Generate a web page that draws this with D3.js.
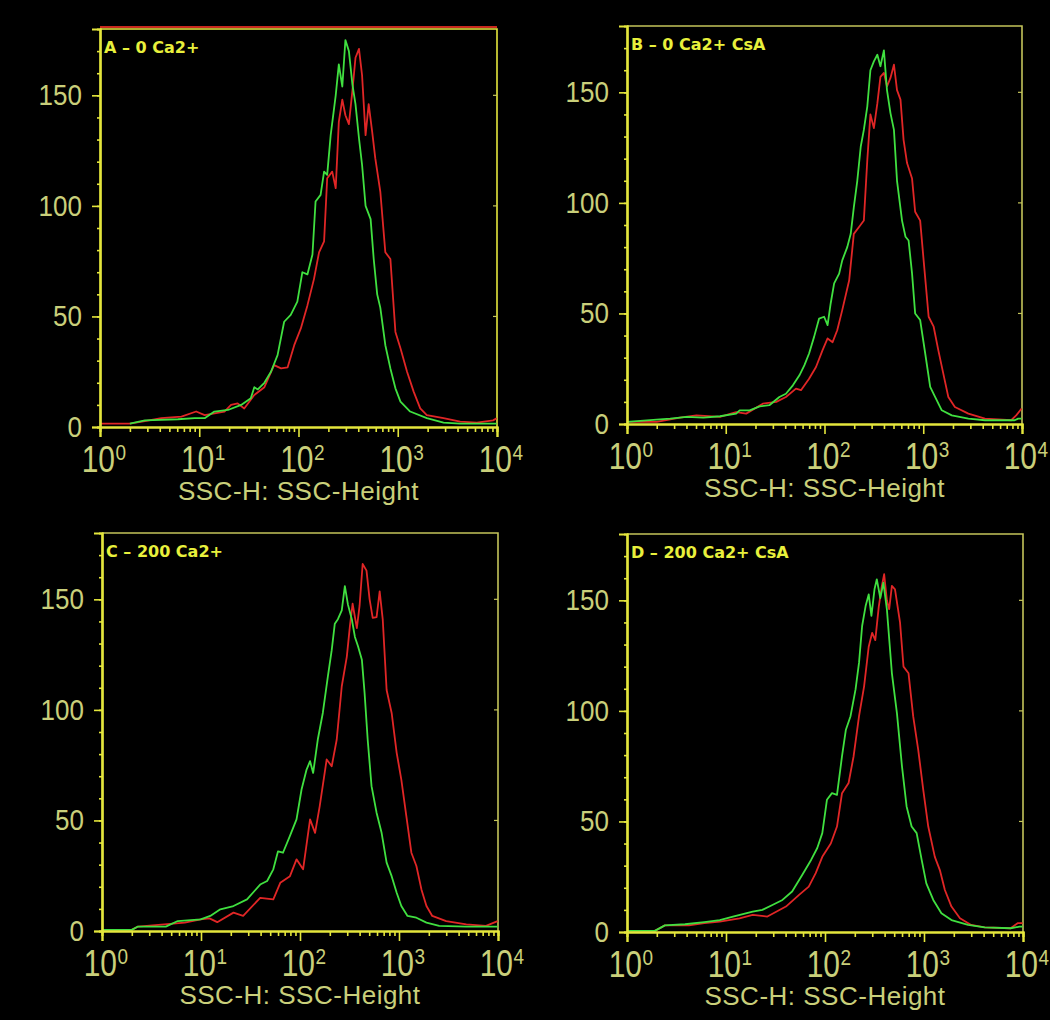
<!DOCTYPE html>
<html>
<head>
<meta charset="utf-8">
<script src="https://cdn.jsdelivr.net/npm/d3@7"></script>
<style>
  html, body { margin: 0; padding: 0; background: #000; }
  svg { display: block; }
</style>
</head>
<body>
<div id="chart"></div>
<script>
// histograms: [channel (0-1023, 256 per decade), count]
var greenA = [[77,1.5],[116,3],[201,3.5],[244,4],[270,4],[295,7],[330,7.7],[364,10],[389,13],[398,18],[407,17],[424,20],[441,25],[458,32.5],[475,47.6],[492,50.7],[509,56.7],[522,70],[535,69],[548,78],[556,102],[569,105],[578,115.5],[586,114],[595,132],[608,150],[616,164],[625,154],[633,175],[642,170],[651,155],[659,146],[668,130.6],[676,118.5],[685,100],[698,94],[706,76],[715,60],[723,54],[736,37],[749,26.5],[762,17.5],[775,11.5],[800,7],[843,4],[886,2],[929,1.5],[1023,1.5]];
var redA = [[0,1.5],[77,1.5],[116,2.7],[158,4],[210,4.7],[248,7],[270,5.4],[321,7],[338,10],[355,10.7],[372,8.4],[398,14.5],[424,18],[449,28],[467,26.5],[484,27],[501,37],[518,44.6],[535,55],[552,67],[565,79],[578,84],[586,112.5],[599,115.5],[608,108],[616,138],[625,148],[633,141],[642,137],[651,152],[659,167],[668,171],[676,159],[685,132],[693,146],[702,133.6],[710,121.6],[723,106.5],[736,79],[749,76],[762,43],[775,35.6],[792,25],[809,16],[826,8.4],[843,5.4],[886,4],[929,2.4],[972,2],[1014,3],[1023,4]];

var greenB = [[0,1],[77,2],[112,2.4],[155,3.2],[198,2.9],[241,3.5],[283,4.7],[292,6.2],[318,6.2],[344,8],[369,8.5],[395,12.2],[412,13.7],[430,17.5],[447,22],[460,26.6],[472,31.9],[485,39.4],[498,47.7],[511,48.5],[520,44.7],[528,54.5],[537,63.6],[550,68],[558,74],[571,80],[580,86],[588,98],[597,110],[606,125.5],[614,133],[623,143.7],[631,160],[640,164],[649,167],[657,161.8],[666,169],[674,151],[683,140.6],[692,133],[700,110],[713,92],[722,84.7],[730,83],[739,68],[747,50],[760,47],[773,32],[786,16.8],[799,12.2],[816,6.2],[842,3.9],[885,2.4],[928,1.7],[1005,1.7],[1014,2.4],[1023,2.4]];
var redB = [[0,1],[77,1],[137,2.9],[180,3.9],[241,3.2],[283,5.4],[309,4.7],[352,9.2],[387,10],[412,12.2],[438,16],[451,15.3],[472,20.5],[490,25.8],[507,33.4],[520,38.7],[533,37],[545,42.4],[558,51.5],[576,65],[588,86],[601,89],[614,92],[623,119.5],[631,140],[640,133.8],[649,145],[657,157],[666,158.8],[674,152.7],[683,156.5],[692,162.5],[700,151],[709,146.7],[717,128.5],[726,118],[739,111],[747,96],[760,92],[769,74],[782,48.5],[795,44],[807,33.4],[820,22.8],[833,12.2],[850,7.7],[885,4.7],[928,2.4],[996,1.7],[1009,3.9],[1023,7]];

var greenC = [[0,0.5],[77,0.5],[93,2],[165,2],[196,4.5],[255,5.3],[280,6.8],[306,9.8],[340,11.3],[375,14.3],[409,21],[427,22.6],[443,27.9],[455,36],[468,35.4],[486,43],[503,50.5],[516,64],[529,73],[538,76.8],[546,71.5],[558,86.6],[571,98.6],[584,115],[594,127],[602,139],[610,141],[620,145],[628,156],[636,147.6],[646,141],[654,133],[662,128.8],[672,122.7],[679,107.7],[687,86.6],[697,65.5],[710,53.5],[723,44.4],[736,30.9],[749,24.8],[762,17.3],[774,11.3],[790,6.8],[813,6],[839,3.8],[872,2.3],[942,2],[1023,2]];
var redC = [[0,0.5],[77,0.5],[93,2],[214,3.8],[255,5.3],[278,5.7],[298,4],[340,8.3],[365,6.8],[409,15],[443,14.3],[461,21.8],[486,24.8],[503,32.4],[520,27.9],[538,50.5],[551,44.4],[563,56.5],[581,77.6],[594,74.5],[607,86.6],[620,110.7],[633,124],[641,137.8],[648,148],[659,137],[666,147],[674,166],[684,163],[692,150],[700,141.6],[710,142],[718,153.6],[726,140.8],[736,109],[749,98.6],[762,80.6],[774,68.5],[787,52],[800,35.4],[813,29.4],[826,18.8],[839,11.3],[854,6.8],[890,4.5],[942,3],[993,2.3],[1023,4.5]];

var greenD = [[0,0.5],[72,0.5],[98,3],[150,3.5],[200,4.5],[240,5.4],[274,7],[325,9.2],[350,10],[376,12.2],[402,14.5],[427,18.3],[453,25.8],[476,32.6],[492,38],[505,44.7],[517,59.8],[530,62.8],[543,62],[556,79.5],[566,91.5],[578,97.6],[591,109.7],[600,121.8],[608,138.4],[617,147.4],[625,152.7],[632,143],[640,155],[646,159.5],[655,151],[663,158],[672,146],[685,117],[698,99],[711,75],[723,56.8],[736,47.7],[749,44.7],[762,32.6],[774,22],[792,14.5],[813,8.5],[839,5.4],[882,3.2],[925,2.1],[992,1.7],[1015,2.4],[1023,2.4]];
var redD = [[0,0.5],[72,0.5],[98,3],[160,3],[200,4],[240,4.7],[291,6.2],[325,7.7],[363,7],[411,11.5],[445,16.8],[470,20.5],[488,26.6],[505,34],[527,40],[543,47.7],[556,62.8],[573,67.4],[586,79.5],[600,97.6],[613,111],[625,129],[634,135.3],[642,132],[651,147],[659,156.5],[665,161.8],[672,150],[678,146],[685,156.5],[693,155],[706,140],[715,120],[728,117],[740,97.6],[753,82.5],[766,64.4],[779,47.7],[796,34],[809,28],[822,19],[839,11.5],[861,6.2],[890,3.2],[925,2.1],[992,1.7],[1010,4],[1023,4]];

var panelTitles = ["A \u2013 0 Ca2+", "B \u2013 0 Ca2+ CsA", "C \u2013 200 Ca2+", "D \u2013 200 Ca2+ CsA"];
var yTicks = [0, 50, 100, 150];
var decades = [0, 1, 2, 3, 4];
var axisTitle = "SSC-H: SSC-Height";

// panel boxes (pixels)
var panels = [
    { title: panelTitles[0], red: redA, green: greenA, left: 100, right: 497, top: 29, bottom: 427, topRed: true },
    { title: panelTitles[1], red: redB, green: greenB, left: 627, right: 1022, top: 26, bottom: 424 },
    { title: panelTitles[2], red: redC, green: greenC, left: 102, right: 498, top: 533, bottom: 931 },
    { title: panelTitles[3], red: redD, green: greenD, left: 627, right: 1023, top: 534, bottom: 932 }
];

var W = 1050, H = 1020;
var axisColor = "#e4e63c";
var frameColor = "#c4c45a";
var labelColor = "#c9cf7a";
var numFont = "'Liberation Sans', Arial, Helvetica, sans-serif";

var svg = d3.select("#chart").append("svg")
    .attr("width", W).attr("height", H)
    .style("background", "#000");

var chToSsc = function (ch) { return Math.pow(10, ch / 256); };

panels.forEach(function (p) {
    var x = d3.scaleLog().domain([1, 10000]).range([p.left, p.right]);
    var y = d3.scaleLinear().domain([0, 180]).range([p.bottom, p.top]);
    var g = svg.append("g");

    // frame (top / right)
    if (p.topRed) {
        g.append("line").attr("x1", p.left).attr("x2", p.right)
            .attr("y1", p.top - 2).attr("y2", p.top - 2)
            .attr("stroke", "#c82a1e").attr("stroke-width", 2);
    }
    g.append("path")
        .attr("d", "M" + p.left + "," + p.top + "H" + p.right + "V" + p.bottom)
        .attr("fill", "none").attr("stroke", p.topRed ? axisColor : frameColor).attr("stroke-width", 1.6);

    // right border inward ticks
    g.selectAll(".rt").data(yTicks.slice(1)).enter().append("line")
        .attr("x1", p.right - 4).attr("x2", p.right)
        .attr("y1", function (d) { return y(d); }).attr("y2", function (d) { return y(d); })
        .attr("stroke", frameColor).attr("stroke-width", 1.2);

    // curves
    var line = d3.line()
        .x(function (d) { return x(chToSsc(d[0])); })
        .y(function (d) { return y(d[1]); });

    g.append("path").datum(p.red).attr("d", line)
        .attr("fill", "none").attr("stroke", "#e02626").attr("stroke-width", 1.8)
        .attr("stroke-linejoin", "round");
    g.append("path").datum(p.green).attr("d", line)
        .attr("fill", "none").attr("stroke", "#40e040").attr("stroke-width", 1.8)
        .attr("stroke-linejoin", "round");

    // x axis: decades and minor ticks
    var minor = [];
    decades.slice(0, 4).forEach(function (e) {
        for (var k = 2; k <= 9; k++) minor.push(k * Math.pow(10, e));
    });
    var xMajor = d3.axisBottom(x).tickValues(decades.map(function (e) { return Math.pow(10, e); }))
        .tickSize(10).tickFormat("");
    var xMinor = d3.axisBottom(x).tickValues(minor).tickSize(5).tickFormat("");
    var yMajor = d3.axisLeft(y).tickValues(yTicks).tickSize(8).tickFormat("");
    var yMinor = d3.axisLeft(y).tickValues(d3.range(0, 180, 10)).tickSize(3).tickFormat("");

    [xMajor, xMinor].forEach(function (ax) {
        g.append("g").attr("transform", "translate(0," + p.bottom + ")").call(ax);
    });
    [yMinor, yMajor].forEach(function (ax) {
        g.append("g").attr("transform", "translate(" + p.left + ",0)").call(ax);
    });
    g.selectAll(".domain").attr("stroke", axisColor).attr("stroke-width", 2.2);
    g.selectAll(".tick line").attr("stroke", axisColor).attr("stroke-width", 1.6);

    // x tick labels 10^n
    decades.forEach(function (e) {
        var tx = x(Math.pow(10, e));
        g.append("text")
            .attr("transform", "translate(" + (tx + 15) + "," + (p.bottom + 45) + ") scale(1,1.2)")
            .attr("text-anchor", "end")
            .style("font-family", numFont).style("font-size", "30px")
            .attr("fill", labelColor).text("10");
        g.append("text")
            .attr("transform", "translate(" + (tx + 15.5) + "," + (p.bottom + 33) + ") scale(1,1.2)")
            .style("font-family", numFont).style("font-size", "19px")
            .attr("fill", labelColor).text(String(e));
    });

    // y tick labels
    yTicks.forEach(function (v) {
        g.append("text")
            .attr("transform", "translate(" + (p.left - 18) + "," + (y(v) + 10) + ") scale(1,1.1)")
            .attr("text-anchor", "end")
            .style("font-family", numFont).style("font-size", "26px")
            .attr("fill", labelColor).text(v);
    });

    // axis title
    g.append("text")
        .attr("x", (p.left + p.right) / 2).attr("y", p.bottom + 73)
        .attr("text-anchor", "middle")
        .style("font-family", numFont).style("font-size", "26px")
        .style("letter-spacing", "0.5px")
        .attr("fill", labelColor).text(axisTitle);

    // panel label
    g.append("text")
        .attr("x", p.left + 4).attr("y", p.top + 24)
        .style("font-family", "'DejaVu Sans', Verdana, sans-serif")
        .style("font-size", "16px").style("font-weight", "bold")
        .attr("fill", "#e8f03c").text(p.title);
});
</script>
</body>
</html>
